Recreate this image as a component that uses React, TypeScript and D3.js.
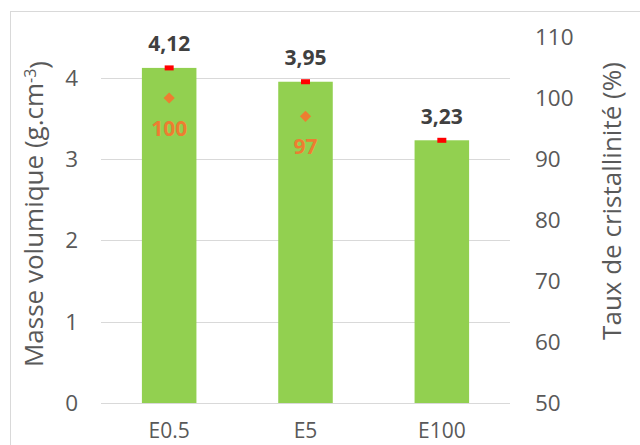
import * as d3 from "d3";
import { useEffect, useRef } from "react";

const categories = ["E0.5", "E5", "E100"];
const density = [4.12, 3.95, 3.23];
const densityLabels = ["4,12", "3,95", "3,23"];
const crystallinity = [100, 97, null];
const densityTicks = [0, 1, 2, 3, 4];
const crystTicks = [50, 60, 70, 80, 90, 100, 110];

export default function App() {
  const svgRef = useRef<SVGSVGElement>(null);

  useEffect(() => {
    if (!svgRef.current) return;
    const svg = d3.select(svgRef.current);
    svg.selectAll("*").remove();

    const width = 640;
    const height = 445;
    const font = "'Open Sans', 'Liberation Sans', sans-serif";
    const left = 101, right = 510, top = 37, bottom = 403;

    const x = d3.scaleBand().domain(categories).range([left, right]).padding(0);
    const yL = d3.scaleLinear().domain([0, 4.5]).range([bottom, top]);
    const yR = d3.scaleLinear().domain([50, 110]).range([bottom, top]);
    const barW = x.bandwidth() * 0.4;
    const cx = (c: string) => x(c)! + x.bandwidth() / 2;

    // chart area border
    svg.append("rect")
      .attr("x", 10.5).attr("y", 11.5)
      .attr("width", 700).attr("height", 500)
      .attr("fill", "none").attr("stroke", "#d9d9d9");

    // gridlines
    svg.selectAll(".grid")
      .data(densityTicks)
      .enter()
      .append("line")
      .attr("x1", left).attr("x2", right)
      .attr("y1", d => Math.round(yL(d)) + 0.5)
      .attr("y2", d => Math.round(yL(d)) + 0.5)
      .attr("stroke", "#d9d9d9")
      .attr("stroke-width", 1);

    // left tick labels
    svg.selectAll(".lt")
      .data(densityTicks)
      .enter()
      .append("text")
      .attr("x", 78).attr("y", d => yL(d))
      .attr("dy", "0.36em")
      .attr("text-anchor", "end")
      .attr("font-family", font).attr("font-size", 22.5)
      .attr("fill", "#595959")
      .text(d => d);

    // right tick labels
    svg.selectAll(".rt")
      .data(crystTicks)
      .enter()
      .append("text")
      .attr("x", 535).attr("y", d => yR(d))
      .attr("dy", "0.36em")
      .attr("text-anchor", "start")
      .attr("font-family", font).attr("font-size", 22.5)
      .attr("fill", "#595959")
      .text(d => d);

    // bars
    svg.selectAll(".bar")
      .data(categories)
      .enter()
      .append("rect")
      .attr("x", d => cx(d) - barW / 2)
      .attr("width", barW)
      .attr("y", (d, i) => yL(density[i]))
      .attr("height", (d, i) => yL(0) - yL(density[i]))
      .attr("fill", "#92d050");

    // red markers at bar top
    svg.selectAll(".mk")
      .data(categories)
      .enter()
      .append("rect")
      .attr("x", d => cx(d) - 4.5)
      .attr("y", (d, i) => yL(density[i]) - 2.5)
      .attr("width", 9).attr("height", 5)
      .attr("fill", "#ff0000");

    // value labels
    svg.selectAll(".vl")
      .data(categories)
      .enter()
      .append("text")
      .attr("x", d => cx(d))
      .attr("y", (d, i) => yL(density[i]) - 24)
      .attr("dy", "0.36em")
      .attr("text-anchor", "middle")
      .attr("font-family", font).attr("font-size", 21).attr("font-weight", "bold")
      .attr("fill", "#404040")
      .text((d, i) => densityLabels[i]);

    // crystallinity diamonds
    const cryst = categories
      .map((c, i) => ({ c, v: crystallinity[i] }))
      .filter(d => d.v !== null);
    const diamond = d3.symbol().type(d3.symbolDiamond2).size(80);
    svg.selectAll(".dm")
      .data(cryst)
      .enter()
      .append("path")
      .attr("d", diamond)
      .attr("transform", d => `translate(${cx(d.c)},${yR(d.v as number)})`)
      .attr("fill", "#ed7d31");
    svg.selectAll(".dl")
      .data(cryst)
      .enter()
      .append("text")
      .attr("x", d => cx(d.c))
      .attr("y", d => yR(d.v as number) + 30)
      .attr("dy", "0.36em")
      .attr("text-anchor", "middle")
      .attr("font-family", font).attr("font-size", 21).attr("font-weight", "bold")
      .attr("fill", "#ed7d31")
      .text(d => d.v as number);

    // category labels
    svg.selectAll(".cl")
      .data(categories)
      .enter()
      .append("text")
      .attr("x", d => cx(d))
      .attr("y", 438)
      .attr("text-anchor", "middle")
      .attr("font-family", font).attr("font-size", 21)
      .attr("fill", "#595959")
      .text(d => d);

    // left axis title
    const lt = svg.append("text")
      .attr("transform", `translate(34,214) rotate(-90)`)
      .attr("dy", "0.36em")
      .attr("text-anchor", "middle")
      .attr("font-family", font).attr("font-size", 26)
      .attr("fill", "#595959");
    lt.append("tspan").text("Masse volumique (g.cm");
    lt.append("tspan").attr("dy", "-0.45em").attr("font-size", 16).text("-3");
    lt.append("tspan").attr("dy", "0.45em").text(")");

    // right axis title
    svg.append("text")
      .attr("transform", `translate(612,201) rotate(-90)`)
      .attr("dy", "0.36em")
      .attr("text-anchor", "middle")
      .attr("font-family", font).attr("font-size", 26)
      .attr("fill", "#595959")
      .text("Taux de cristallinité (%)");

    svg.attr("width", width).attr("height", height);
  }, []);

  return (
    <svg
      ref={svgRef}
      width={640}
      height={445}
      style={{ position: "absolute", left: 0, top: 0, background: "#fff" }}
    />
  );
}
